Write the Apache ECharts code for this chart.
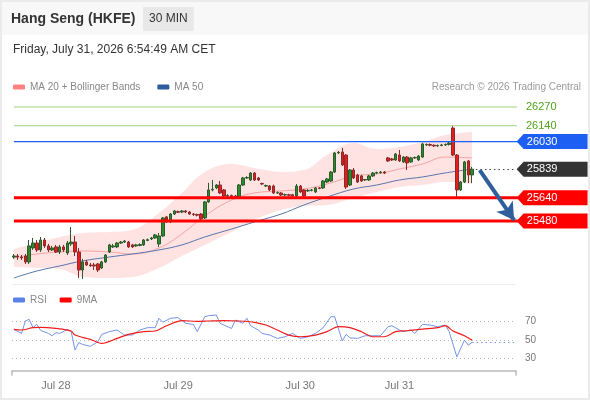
<!DOCTYPE html>
<html>
<head>
<meta charset="utf-8">
<script src="https://cdn.jsdelivr.net/npm/echarts@6/dist/echarts.min.js"></script>
<style>
  html, body { margin: 0; padding: 0; background: #fff; }
  #chart { width: 590px; height: 400px; }
</style>
</head>
<body>
<div id="chart"></div>
<script>
// 30 min candles, [open, close, low, high]
const candles = [
  [25230, 25237, 25217, 25251], [25237, 25230, 25210, 25251], [25230, 25224, 25210, 25244],
  [25237, 25196, 25182, 25251], [25196, 25307, 25182, 25348], [25293, 25327, 25279, 25362],
  [25327, 25279, 25265, 25348], [25279, 25348, 25265, 25369], [25348, 25307, 25293, 25362],
  [25307, 25279, 25265, 25321], [25279, 25293, 25272, 25307], [25300, 25265, 25258, 25314],
  [25265, 25300, 25251, 25314], [25300, 25279, 25265, 25314], [25258, 25327, 25244, 25341],
  [25321, 25334, 25307, 25438], [25334, 25265, 25237, 25376], [25265, 25140, 25085, 25293],
  [25140, 25196, 25078, 25217], [25196, 25175, 25168, 25210], [25175, 25170, 25161, 25189],
  [25175, 25168, 25140, 25189], [25182, 25140, 25126, 25189], [25154, 25196, 25147, 25203],
  [25196, 25244, 25189, 25251], [25265, 25314, 25258, 25321], [25300, 25307, 25293, 25321],
  [25300, 25327, 25293, 25334], [25327, 25334, 25321, 25341], [25334, 25341, 25327, 25348],
  [25334, 25300, 25293, 25341], [25314, 25300, 25293, 25321], [25307, 25314, 25300, 25321],
  [25310, 25316, 25305, 25325], [25314, 25348, 25307, 25355], [25345, 25350, 25340, 25358],
  [25355, 25362, 25348, 25369], [25362, 25383, 25355, 25390], [25321, 25376, 25300, 25397],
  [25376, 25501, 25369, 25508], [25508, 25473, 25466, 25515], [25473, 25528, 25466, 25535],
  [25528, 25549, 25522, 25556], [25545, 25540, 25535, 25552], [25542, 25549, 25535, 25556],
  [25549, 25542, 25535, 25556], [25542, 25528, 25522, 25549], [25528, 25525, 25515, 25535],
  [25525, 25520, 25512, 25530], [25528, 25494, 25473, 25535], [25501, 25612, 25494, 25618],
  [25612, 25695, 25605, 25744], [25695, 25700, 25685, 25764], [25709, 25729, 25700, 25736],
  [25729, 25674, 25667, 25757], [25695, 25653, 25646, 25702], [25653, 25656, 25646, 25665],
  [25656, 25650, 25642, 25663], [25653, 25639, 25632, 25660], [25639, 25729, 25632, 25736],
  [25729, 25778, 25722, 25785], [25778, 25781, 25771, 25790], [25764, 25812, 25757, 25819],
  [25812, 25764, 25757, 25819], [25778, 25764, 25757, 25785], [25740, 25736, 25729, 25745],
  [25722, 25725, 25715, 25732], [25722, 25695, 25688, 25729], [25722, 25674, 25667, 25732],
  [25674, 25676, 25667, 25685], [25674, 25660, 25653, 25680], [25660, 25662, 25650, 25670],
  [25662, 25658, 25650, 25668], [25662, 25653, 25646, 25668], [25653, 25722, 25646, 25736],
  [25722, 25681, 25674, 25729], [25695, 25653, 25646, 25702], [25688, 25692, 25681, 25700],
  [25692, 25695, 25685, 25702], [25681, 25709, 25674, 25715], [25709, 25706, 25700, 25715],
  [25709, 25757, 25702, 25764], [25750, 25771, 25743, 25778], [25757, 25819, 25750, 25826],
  [25819, 25951, 25812, 25958], [25951, 25955, 25944, 25965], [25958, 25868, 25861, 25986],
  [25937, 25715, 25702, 25944], [25729, 25833, 25722, 25840], [25833, 25778, 25771, 25847],
  [25799, 25750, 25743, 25806], [25792, 25757, 25750, 25800], [25764, 25767, 25757, 25771],
  [25764, 25792, 25757, 25799], [25792, 25812, 25785, 25819], [25812, 25815, 25805, 25822],
  [25815, 25819, 25808, 25826], [25819, 25812, 25805, 25826], [25917, 25896, 25889, 25924],
  [25910, 25903, 25896, 25917], [25903, 25944, 25896, 25951], [25937, 25896, 25889, 25972],
  [25889, 25923, 25882, 25930], [25923, 25882, 25833, 25930], [25889, 25917, 25882, 25924],
  [25917, 25920, 25910, 25927], [25903, 25930, 25896, 25937], [25923, 26014, 25917, 26021],
  [26007, 26010, 26000, 26017], [26010, 26005, 25998, 26017], [26005, 26000, 25993, 26010],
  [26000, 26003, 25993, 26010], [26003, 26007, 25998, 26014], [26007, 26010, 26000, 26017],
  [26010, 26020, 26003, 26028], [26124, 25937, 25930, 26138], [25937, 25695, 25639, 25944],
  [25695, 25750, 25688, 25757], [25750, 25889, 25743, 25896], [25896, 25799, 25743, 25903],
  [25799, 25839, 25743, 25855]
];
const emptySlots = 11;

// x-axis day labels and the candle index they sit under
const dayLabels = ["Jul 28", "Jul 29", "Jul 30", "Jul 31"];
const dayLabelIdx = [11, 43, 75, 101];

// indicator readings, sampled at candle indexes
const bandIdx = [0, 6, 12, 18, 25, 31, 38, 44, 50, 57, 63, 70, 76, 82, 89, 95, 101, 107, 113, 120];
const bbUpper = [25286, 25328, 25369, 25397, 25404, 25418, 25535, 25674, 25820, 25875, 25847, 25820, 25833, 25937, 26020, 25979, 25993, 26027, 26076, 26097];
const bbLower = [25161, 25154, 25147, 25092, 25085, 25092, 25154, 25237, 25314, 25404, 25487, 25556, 25584, 25591, 25639, 25681, 25716, 25729, 25750, 25736];
const ma20 = [25224, 25251, 25265, 25272, 25265, 25251, 25293, 25390, 25515, 25625, 25674, 25688, 25702, 25736, 25792, 25806, 25840, 25875, 25923, 25917];
const ma50 = [25085, 25133, 25168, 25203, 25230, 25251, 25279, 25314, 25369, 25424, 25473, 25528, 25591, 25646, 25702, 25729, 25764, 25785, 25813, 25840];

const rsiIdx = [0, 2, 3, 4, 5, 6, 7, 9, 10, 11, 12, 14, 15, 16, 17, 18, 20, 22, 23, 25, 27, 29, 31, 33, 35, 37, 38, 39, 41, 43,
  45, 47, 48, 50, 51, 53, 54, 55, 57, 58, 60, 61, 62, 64, 65, 67, 69, 71, 73, 75, 77, 79, 81, 83, 84, 86, 87, 88, 90, 92,
  94, 96, 98, 99, 101, 102, 104, 105, 107, 109, 111, 113, 114, 116, 118, 119, 120];
const rsiVal = [61, 56.8, 70, 71.8, 63, 66.4, 60, 56.8, 54.3, 57.5, 56.8, 61, 58.6, 39, 47, 45, 43, 47.9, 55.7, 58.6,
  60.4, 55, 55, 60.4, 62.9, 62.9, 72.9, 68.6, 72.9, 73.6, 67.5, 66.4, 58.6, 74.6, 75.7, 76.4, 67.5, 65.7, 62, 71,
  67.5, 72.9, 65, 60.4, 56.8, 55, 51.4, 53.2, 56.8, 51.4, 53.2, 56.8, 62.9, 74.6, 74.6, 48.6, 55.7, 52.1, 51.4, 54.3,
  54.3, 54.3, 63.9, 65, 60.4, 58.6, 60.4, 56.8, 66.4, 65.7, 63.9, 65.7, 58.6, 31.8, 49.6, 44.3, 47.1];
const rsiMaIdx = [0, 2, 5, 7, 11, 15, 16, 20, 23, 27, 30, 34, 37, 40, 44, 48, 51, 55, 59, 63, 66, 69, 72, 75, 79, 82, 85, 88, 91, 94,
  97, 100, 103, 107, 111, 113, 115, 118, 120];
const rsiMaVal = [61, 60.4, 62.9, 63.2, 62.1, 59.3, 55, 50.4, 46.1, 51.4, 55.7, 58.6, 59.3, 65, 70.4, 69.6, 70, 70.4, 70, 68.6,
  65.7, 60.4, 55, 53.2, 55, 58.6, 63.9, 62.9, 58.6, 53.2, 53.2, 58.6, 59.6, 61.4, 62.9, 65, 59.3, 54.3, 49.6];

// key levels
const resistLevels = [26270, 26140];
const pivotLevel = 26030;
const supportLevels = [25640, 25480];

// projected move (candle index, price)
const projIdx = [121.5, 130.8];
const projVal = [25833, 25485];

const FONT = "'Liberation Sans', Arial, sans-serif";
const total = candles.length + emptySlots;
const lastIdx = total - 1;
const lastClose = candles[candles.length - 1][1];
const lastRsi = rsiVal[rsiVal.length - 1];

const cats = [];
for (let i = 0; i < total; i++) cats.push(String(i));
const labelAt = {};
dayLabelIdx.forEach((idx, i) => { labelAt[idx] = dayLabels[i]; });

const pairs = (xs, ys) => xs.map((x, i) => [x, ys[i]]);

const tagPath = "path://M0,7.5L7,0L71,0L71,15L7,15Z";
function tag(value, color) {
  return {
    coord: [lastIdx, value],
    symbol: tagPath,
    symbolSize: [71, 15],
    symbolOffset: [38, 0],
    itemStyle: { color: color },
    label: {
      show: true, position: "inside", offset: [-10, 0],
      formatter: String(value), color: "#fff", fontSize: 11, fontFamily: FONT
    }
  };
}

// a horizontal level drawn as a two point line across the whole plot
function levelLine(value, color, width, withLabel) {
  return {
    name: "level " + value, type: "line", xAxisIndex: 0, yAxisIndex: 0, z: 4, silent: true, clip: false,
    data: [[-0.5, value], [lastIdx + 0.5, value]], symbol: "none",
    lineStyle: { color: color, width: width, type: "solid" },
    endLabel: withLabel
      ? { show: true, distance: 9, color: "#52a31a", fontSize: 11, fontFamily: FONT, formatter: String(value) }
      : { show: false }
  };
}

const chart = echarts.init(document.getElementById("chart"));
chart.setOption({
  animation: false,
  backgroundColor: "#fff",
  textStyle: { fontFamily: FONT },
  graphic: [
    { type: "rect", z: -10, shape: { x: 0, y: 0, width: 590, height: 35 }, style: { fill: "#f8f8f8" } },
    { type: "rect", z: -10, shape: { x: 1, y: 1, width: 588, height: 398 }, style: { fill: "none", stroke: "#ebebeb", lineWidth: 2 } }
  ],
  title: [
    { text: "Hang Seng (HKFE)", left: 11, top: 12, padding: 0, textStyle: { fontSize: 14, fontWeight: "bold", color: "#333", fontFamily: FONT } },
    { text: "30 MIN", left: 143, top: 7, padding: [6, 6], backgroundColor: "#e8e8e8", textStyle: { fontSize: 12, fontWeight: "normal", color: "#333", fontFamily: FONT } },
    { text: "Friday, July 31, 2026 6:54:49 AM CET", left: 13, top: 44, padding: 0, textStyle: { fontSize: 12, fontWeight: "normal", color: "#333", fontFamily: FONT } },
    { text: "Research © 2026 Trading Central", right: 9, top: 82, padding: 0, textStyle: { fontSize: 10, fontWeight: "normal", color: "#9a9a9a", fontFamily: FONT } }
  ],
  legend: [
    {
      left: 13, top: 82, padding: 0, itemWidth: 12, itemHeight: 5, itemGap: 17, icon: "roundRect",
      textStyle: { color: "#888", fontSize: 10, fontFamily: FONT }, selectedMode: false,
      data: [
        { name: "MA 20 + Bollinger Bands", itemStyle: { color: "#ff8282" } },
        { name: "MA 50", itemStyle: { color: "#2f5c9c" } }
      ]
    },
    {
      left: 13, top: 295, padding: 0, itemWidth: 12, itemHeight: 5, itemGap: 13, icon: "roundRect",
      textStyle: { color: "#888", fontSize: 10, fontFamily: FONT }, selectedMode: false,
      data: [
        { name: "RSI", itemStyle: { color: "#5b82e6" } },
        { name: "9MA", itemStyle: { color: "#ff0000" } }
      ]
    }
  ],
  grid: [
    { left: 12, right: 74, top: 95, height: 189 },
    { left: 12, right: 74, top: 321, height: 37.5 }
  ],
  xAxis: [
    {
      gridIndex: 0, type: "category", data: cats, boundaryGap: true,
      axisLine: { lineStyle: { color: "#eeeeee" } }, axisTick: { show: false }, axisLabel: { show: false }
    },
    {
      gridIndex: 1, type: "category", data: cats, boundaryGap: true, offset: 12,
      axisLine: { lineStyle: { color: "#bbbbbb", width: 1.5 } },
      axisTick: { show: true, interval: i => i === 0, length: 5, lineStyle: { color: "#bbbbbb", width: 1.5 } },
      axisLabel: { interval: 0, color: "#777", fontSize: 11, margin: 10, formatter: (v, i) => labelAt[i] || "" }
    }
  ],
  yAxis: [
    { gridIndex: 0, min: 25043, max: 26353, show: false, splitLine: { show: false } },
    {
      gridIndex: 1, position: "right", min: 30, max: 70, interval: 20,
      axisLine: { show: false }, axisTick: { show: false },
      axisLabel: { color: "#777", fontSize: 10, margin: 9 },
      splitLine: { lineStyle: { color: "#b5b5b5", type: [1, 3] } }
    }
  ],
  series: [
    {
      name: "bbLower", type: "line", xAxisIndex: 0, yAxisIndex: 0, z: 1, silent: true,
      data: pairs(bandIdx, bbLower), stack: "bb", symbol: "none", smooth: 0.4,
      lineStyle: { opacity: 0 }
    },
    {
      name: "bbWidth", type: "line", xAxisIndex: 0, yAxisIndex: 0, z: 1, silent: true,
      data: bandIdx.map((x, i) => [x, bbUpper[i] - bbLower[i]]), stack: "bb", symbol: "none", smooth: 0.4,
      lineStyle: { opacity: 0 }, areaStyle: { color: "#ffe2e2", opacity: 1 }
    },
    {
      name: "MA 20 + Bollinger Bands", type: "line", xAxisIndex: 0, yAxisIndex: 0, z: 2,
      data: pairs(bandIdx, ma20), symbol: "none", smooth: 0.4,
      lineStyle: { color: "#f6a3a3", width: 1 }, itemStyle: { color: "#ff8282" }
    },
    {
      name: "MA 50", type: "line", xAxisIndex: 0, yAxisIndex: 0, z: 2,
      data: pairs(bandIdx, ma50), symbol: "none", smooth: 0.4,
      lineStyle: { color: "#5877ad", width: 1 }, itemStyle: { color: "#2f5c9c" }
    },
    ...resistLevels.map(v => levelLine(v, "#9fd17f", 1, true)),
    levelLine(pivotLevel, "#1a5ff7", 1.3, false),
    ...supportLevels.map(v => levelLine(v, "#ff0000", 3, false)),
    {
      name: "K", type: "candlestick", xAxisIndex: 0, yAxisIndex: 0, z: 3,
      data: candles, barWidth: 3,
      itemStyle: { color: "#2f8a2f", color0: "#e51d1d", borderColor: "#2b5a2b", borderColor0: "#8a2a2a", borderWidth: 1 },
      markLine: {
        silent: true, animation: false, label: { show: false },
        data: [
          [
            { coord: [projIdx[0] - 0.5, lastClose], symbol: "none", lineStyle: { color: "#444", width: 1.2, type: [1.5, 3] } },
            { coord: [lastIdx, lastClose], symbol: "none" }
          ],
          [
            { coord: [projIdx[0], projVal[0]], symbol: "none", lineStyle: { color: "#2f5e9c", width: 4, type: "solid" } },
            { coord: [projIdx[1], projVal[1]], symbol: "arrow", symbolSize: [15, 17] }
          ]
        ]
      },
      markPoint: {
        silent: true, animation: false,
        data: [tag(pivotLevel, "#1d5ff3"), tag(lastClose, "#333333"), tag(supportLevels[0], "#ff0000"), tag(supportLevels[1], "#ff0000")]
      }
    },
    {
      name: "RSI", type: "line", xAxisIndex: 1, yAxisIndex: 1, clip: false,
      data: pairs(rsiIdx, rsiVal), symbol: "none",
      lineStyle: { color: "#7594ea", width: 1 }, itemStyle: { color: "#5b82e6" }
    },
    {
      name: "RSI ext", type: "line", xAxisIndex: 1, yAxisIndex: 1, clip: false,
      data: [[rsiIdx[rsiIdx.length - 1], lastRsi], [lastIdx, lastRsi]], symbol: "none",
      lineStyle: { color: "#7594ea", width: 1, type: [1.5, 3] }
    },
    {
      name: "9MA", type: "line", xAxisIndex: 1, yAxisIndex: 1, clip: false,
      data: pairs(rsiMaIdx, rsiMaVal), symbol: "none", smooth: 0.3,
      lineStyle: { color: "#f01c1c", width: 1.2 }, itemStyle: { color: "#ff0000" }
    }
  ]
});
</script>
</body>
</html>
